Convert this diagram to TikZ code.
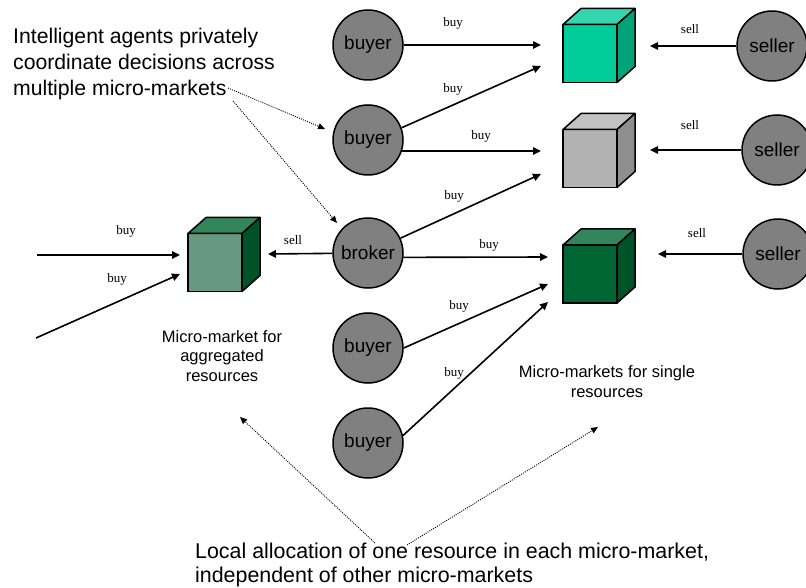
\documentclass[tikz,border=0pt]{standalone}
\usepackage{fontspec}
\setmainfont{Liberation Sans}
\newfontfamily\labelfont{Liberation Serif}
\usetikzlibrary{arrows.meta}

\definecolor{agentgray}{HTML}{808080}
\definecolor{tealfront}{HTML}{00CC99}
\definecolor{tealtop}{HTML}{33D6AD}
\definecolor{tealside}{HTML}{00A37A}
\definecolor{grayfront}{HTML}{B2B2B2}
\definecolor{graytop}{HTML}{C2C2C2}
\definecolor{grayside}{HTML}{8E8E8E}
\definecolor{greenfront}{HTML}{006633}
\definecolor{greentop}{HTML}{33855C}
\definecolor{greenside}{HTML}{005229}
\definecolor{aggfront}{HTML}{66997F}

% cube: front face is a named node, top and right faces are added to it
% #1 name, #2 x, #3 y, #4 front colour, #5 top colour, #6 side colour
\newcommand\mkcube[6]{%
  \node[market, fill=#4] (#1) at (#2,#3) {};
  \filldraw[facework, fill=#5] (#1.north west) -- ++(18,-16) -- ++(54,0) -- (#1.north east) -- cycle;
  \filldraw[facework, fill=#6] (#1.north east) -- ++(18,-16) -- ++(0,58) -- (#1.south east) -- cycle;
}

\begin{document}
\begin{tikzpicture}[x=1pt,y=-1pt,
  agent/.style={circle, draw, line width=1.5pt, fill=agentgray, minimum size=70pt,
    inner sep=0pt, font=\fontsize{19}{22}\selectfont},
  market/.style={draw, line width=1.5pt, minimum width=54pt, minimum height=58pt,
    inner sep=0pt, outer sep=0pt},
  facework/.style={line width=1.5pt, line join=round},
  flow/.style={line width=1.6pt, -{Triangle[length=8pt,width=7.5pt]}},
  note/.style={line width=0.9pt, dash pattern=on 1pt off 1.2pt,
    -{Triangle[length=7pt,width=6pt]}},
  tag/.style={font=\labelfont\fontsize{13}{15}\selectfont, inner sep=0pt, anchor=base},
  bigtext/.style={inner sep=0pt, align=left, anchor=base west},
  midtext/.style={font=\fontsize{16.5}{19.5}\selectfont, inner sep=0pt, align=center, anchor=base}
]
\useasboundingbox (0,0) rectangle (806,588);
\clip (0,0) rectangle (806,588);

% ---------- agents ----------
\node[agent] (b1) at (368,45)  {buyer};
\node[agent] (b2) at (368,140) {buyer};
\node[agent] (br) at (368,253) {broker};
\node[agent] (b4) at (368,348) {buyer};
\node[agent] (b5) at (368,443) {buyer};
\node[agent] (s1) at (772,46)  {seller};
\node[agent] (s2) at (777,150) {seller};
\node[agent] (s3) at (778,254) {seller};

% ---------- micro-markets ----------
\mkcube{m1}{590}{53.5}{tealfront}{tealtop}{tealside}
\mkcube{m2}{590}{158.5}{grayfront}{graytop}{grayside}
\mkcube{m3}{590}{274}{greenfront}{greentop}{greenside}
\mkcube{m4}{215}{262.5}{aggfront}{greentop}{greenside}

% ---------- arrow ends in front of the markets ----------
\coordinate (t11) at (541,45);
\coordinate (t21) at (541,66);
\coordinate (t22) at (541,151);
\coordinate (t32) at (541,174);
\coordinate (t33) at (548,257);
\coordinate (t43) at (548,284);
\coordinate (t53) at (548,302);
\coordinate (u1) at (650,46);
\coordinate (u2) at (650,150);
\coordinate (u3) at (658,254);
\coordinate (u4) at (268,254);
\coordinate (e1) at (37,255);
\coordinate (f1) at (180,255);
\coordinate (e2) at (36,338);
\coordinate (f2) at (180,274);

% ---------- buy flows ----------
\draw[flow] (b1) -- (t11);
\draw[flow] (b2.20) -- (t21);
\draw[flow] (b2.-18) -- (t22);
\draw[flow] (br) -- (t32);
\draw[flow] (br.-7) -- (t33);
\draw[flow] (b4.east) -- (t43);
\draw[flow] (b5.12) -- (t53);
\draw[flow] (e1) -- (f1);
\draw[flow] (e2) -- (f2);

% ---------- sell flows ----------
\draw[flow] (s1) -- (u1);
\draw[flow] (s2) -- (u2);
\draw[flow] (s3) -- (u3);
\draw[flow] (br) -- (u4);

% ---------- flow labels ----------
\node[tag] (lb1) at (453,27)  {buy};
\node[tag] (lb2) at (453,93)  {buy};
\node[tag] (lb3) at (481,140) {buy};
\node[tag] (lb4) at (454,200) {buy};
\node[tag] (lb5) at (489,248) {buy};
\node[tag] (lb6) at (459,309) {buy};
\node[tag] (lb7) at (454,376) {buy};
\node[tag] (lb8) at (126,235) {buy};
\node[tag] (lb9) at (117,282) {buy};
\node[tag] (ls1) at (690,34)  {sell};
\node[tag] (ls2) at (690,130) {sell};
\node[tag] (ls3) at (697,238) {sell};
\node[tag] (ls4) at (293,244) {sell};

% ---------- captions (anchored on the baseline of their last line) ----------
\node[bigtext, font=\fontsize{21.2}{26}\selectfont] (agents) at (13,96)
  {Intelligent agents privately\\coordinate decisions across\\multiple micro-markets};
\node[bigtext, font=\fontsize{21.4}{24}\selectfont] (local) at (195,582)
  {Local allocation of one resource in each micro-market,\\independent of other micro-markets};
\node[midtext] (aggcap) at (222,381) {Micro-market for\\aggregated\\resources};
\node[midtext] (singlecap) at (607,397) {Micro-markets for single\\resources};

% ---------- dotted pointers ----------
\coordinate (n1) at (228,88);
\coordinate (n1e) at (325,129);
\coordinate (n2) at (233,101);
\coordinate (n2e) at (337,223);
\coordinate (n3) at (375,543);
\coordinate (n3e) at (240,417);
\coordinate (n4) at (407,545);
\coordinate (n4e) at (598,427);
\draw[note] (n1) -- (n1e);
\draw[note] (n2) -- (n2e);
\draw[note] (n3) -- (n3e);
\draw[note] (n4) -- (n4e);
\end{tikzpicture}
\end{document}
